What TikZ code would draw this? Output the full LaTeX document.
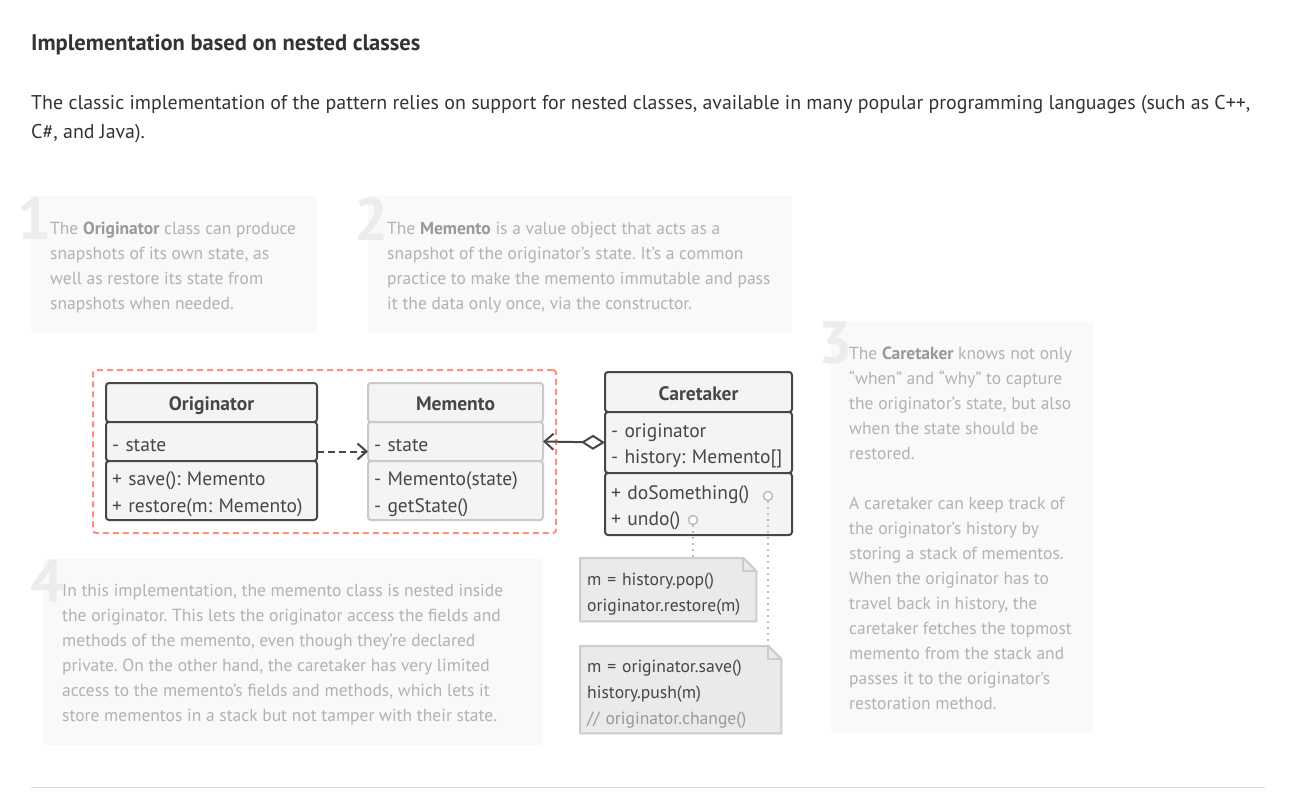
\documentclass[tikz,border=0pt]{standalone}
\usepackage{fontspec}
\setmainfont{PT Sans}
\usetikzlibrary{arrows.meta,positioning,fit,backgrounds}
\definecolor{ink}{HTML}{333333}
\definecolor{clsdark}{HTML}{474747}
\definecolor{clslight}{HTML}{CACACA}
\definecolor{clsfill}{HTML}{F4F4F4}
\definecolor{notefill}{HTML}{EAEAEA}
\definecolor{noteline}{HTML}{CDCDCD}
\definecolor{hint}{HTML}{B2B2B2}
\definecolor{hintbold}{HTML}{999999}
\definecolor{hintfill}{HTML}{F9F9F9}
\definecolor{hintnum}{HTML}{ECECEC}
\definecolor{nest}{HTML}{FF8E7F}
\definecolor{rulegray}{HTML}{DDDDDD}
\definecolor{dotgray}{HTML}{BDBDBD}
\newcommand\clsstrut{\rule[-1pt]{0pt}{22pt}}

\begin{document}
\frenchspacing
\begin{tikzpicture}[x=1pt,y=-1pt,
hintbox/.style={fill=hintfill,draw=none,anchor=north west,inner sep=0pt},
hintnum/.style={anchor=north west,inner sep=0pt,text=hintnum,font=\fontsize{60}{60}\selectfont\bfseries},
hinttext/.style={anchor=north west,inner sep=0pt,align=left,text=hint,font=\fontsize{17.5}{25}\selectfont},
clshead/.style={draw=#1,fill=clsfill,line width=2pt,rounded corners=3pt,outer sep=0pt,inner sep=0pt,anchor=north west,text height=17pt,text depth=1pt,font=\fontsize{19.5}{25}\selectfont\bfseries,text=clsdark},
clspart/.style={draw=#1,fill=clsfill,line width=2pt,rounded corners=3pt,outer sep=0pt,inner xsep=6pt,inner ysep=0pt,align=left,font=\fontsize{19.5}{25}\selectfont,text=clsdark},
notebox/.style={fill=notefill,draw=noteline,line width=2pt},
notetext/.style={anchor=north west,inner xsep=7pt,inner ysep=0pt,align=left,text=clsdark,font=\fontsize{17.6}{23}\selectfont},
pindot/.style={circle,draw=dotgray,fill=white,line width=1.5pt,minimum size=9pt,inner sep=0pt},
dotline/.style={draw=dotgray,line width=2pt,dash pattern=on 2pt off 4pt},
dep/.style={draw=clsdark,line width=2pt,dash pattern=on 7pt off 4pt,-{Straight Barb[length=9pt,width=16pt,line width=2pt]}},
agg/.style={draw=clsdark,line width=2pt,{Straight Barb[length=9pt,width=16pt,line width=2pt]}-{Diamond[open,length=24pt,width=15pt,line width=2pt]}}
]
\begin{scope}[on background layer]
\fill[white] (0,0) rectangle (1292,802);
\end{scope}
\useasboundingbox (0,0) rectangle (1292,802);

% heading and intro
\node[anchor=base west,inner sep=0pt,text=ink,font=\fontsize{22.5}{26}\selectfont\bfseries] (title) at (31,51) {Implementation based on nested classes};
\node[anchor=north west,inner sep=0pt,align=left,text=ink,font=\fontsize{19.9}{29}\selectfont] (intro) at (31,95)
  {The classic implementation of the pattern relies on support for nested classes, available in many popular programming languages (such as C++,\\C\#, and Java).};

% hint boxes
\node[hintbox,minimum width=286pt,minimum height=137pt] (hintA) at (31,196) {};
\node[hintbox,minimum width=424pt,minimum height=137pt] (hintB) at (368,196) {};
\node[hintbox,minimum width=262pt,minimum height=411pt] (hintC) at (831,322) {};
\node[hintbox,minimum width=500pt,minimum height=186pt] (hintD) at (43,559) {};

\node[hintnum] (numA) at (17,197) {1};
\node[hintnum] (numB) at (354,197) {2};
\node[hintnum] (numC) at (818,321) {3};
\node[hintnum] (numD) at (30,560) {4};

\node[hinttext] (textA) at (50,222) {The \textbf{\color{hintbold}Originator} class can produce\\snapshots of its own state, as\\well as restore its state from\\snapshots when needed.};
\node[hinttext] (textB) at (387,222) {The \textbf{\color{hintbold}Memento} is a value object that acts as a\\snapshot of the originator’s state. It’s a common\\practice to make the memento immutable and pass\\it the data only once, via the constructor.};
\node[hinttext] (textC) at (849,347) {The \textbf{\color{hintbold}Caretaker} knows not only\\“when” and “why” to capture\\the originator’s state, but also\\when the state should be\\restored.\\[25pt]A caretaker can keep track of\\the originator’s history by\\storing a stack of mementos.\\When the originator has to\\travel back in history, the\\caretaker fetches the topmost\\memento from the stack and\\passes it to the originator’s\\restoration method.};
\node[hinttext] (textD) at (62,584) {In this implementation, the memento class is nested inside\\the originator. This lets the originator access the fields and\\methods of the memento, even though they’re declared\\private. On the other hand, the caretaker has very limited\\access to the memento’s fields and methods, which lets it\\store mementos in a stack but not tamper with their state.};

% classes
\node[clshead=clsdark,minimum width=211pt,minimum height=39pt] (orighead) at (106,383) {Originator};
\node[clspart=clsdark,below=0pt of orighead,text width=199pt,minimum height=39pt] (origattr) {\clsstrut- state};
\node[clspart=clsdark,below=0pt of origattr,text width=199pt,minimum height=59pt] (origops) {\clsstrut+ save(): Memento\\\clsstrut+ restore(m: Memento)};

\node[clshead=clslight,minimum width=175pt,minimum height=39pt] (memhead) at (368,383) {Memento};
\node[clspart=clslight,below=0pt of memhead,text width=163pt,minimum height=39pt] (memattr) {\clsstrut- state};
\node[clspart=clslight,below=0pt of memattr,text width=163pt,minimum height=59pt] (memops) {\clsstrut- Memento(state)\\\clsstrut- getState()};

\node[clshead=clsdark,minimum width=187pt,minimum height=40pt] (carehead) at (605,372) {Caretaker};
\node[clspart=clsdark,below=0pt of carehead,text width=175pt,minimum height=61pt] (careattr) {\clsstrut- originator\\\clsstrut- history: Memento[]};
\node[clspart=clsdark,below=0pt of careattr,text width=175pt,minimum height=62pt] (careops) {\clsstrut+ doSomething()\\\clsstrut+ undo()};

\node[draw=nest,line width=2pt,dash pattern=on 6pt off 4pt,rounded corners=3pt,inner sep=13pt,fit=(orighead)(memops)] (nestframe) {};

% notes
\node[notetext,minimum width=176pt,minimum height=63pt,text width=162pt] (popnote) at (580,558) {\clsstrut m = history.pop()\\\clsstrut originator.restore(m)};
\node[notetext,minimum width=201pt,minimum height=87pt,text width=187pt] (savenote) at (580,646) {\clsstrut m = originator.save()\\\clsstrut history.push(m)\\\clsstrut{\color{hintbold}// originator.change()}};
\begin{scope}[on background layer]
\filldraw[notebox] (popnote.north west) -- ([xshift=-13pt]popnote.north east) -- ([yshift=-13pt]popnote.north east) -- (popnote.south east) -- (popnote.south west) -- cycle;
\draw[notebox,fill=none] ([xshift=-13pt]popnote.north east) |- ([yshift=-13pt]popnote.north east);
\filldraw[notebox] (savenote.north west) -- ([xshift=-13pt]savenote.north east) -- ([yshift=-13pt]savenote.north east) -- (savenote.south east) -- (savenote.south west) -- cycle;
\draw[notebox,fill=none] ([xshift=-13pt]savenote.north east) |- ([yshift=-13pt]savenote.north east);
\end{scope}

\node[pindot] (dosomedot) at (768,496) {};
\node[pindot] (undodot) at (693,520) {};
\draw[dotline] (undodot) -- (undodot |- popnote.north);
\draw[dotline] (dosomedot) -- (dosomedot |- savenote.north);

% relations
\draw[dep] ([yshift=-10pt]origattr.east) -- ([yshift=-10pt]memattr.west);
\draw[agg] (memattr.east) -- (careattr.west);

\draw[rulegray,line width=1pt] (31,787) -- (1265,787);
\end{tikzpicture}
\end{document}
